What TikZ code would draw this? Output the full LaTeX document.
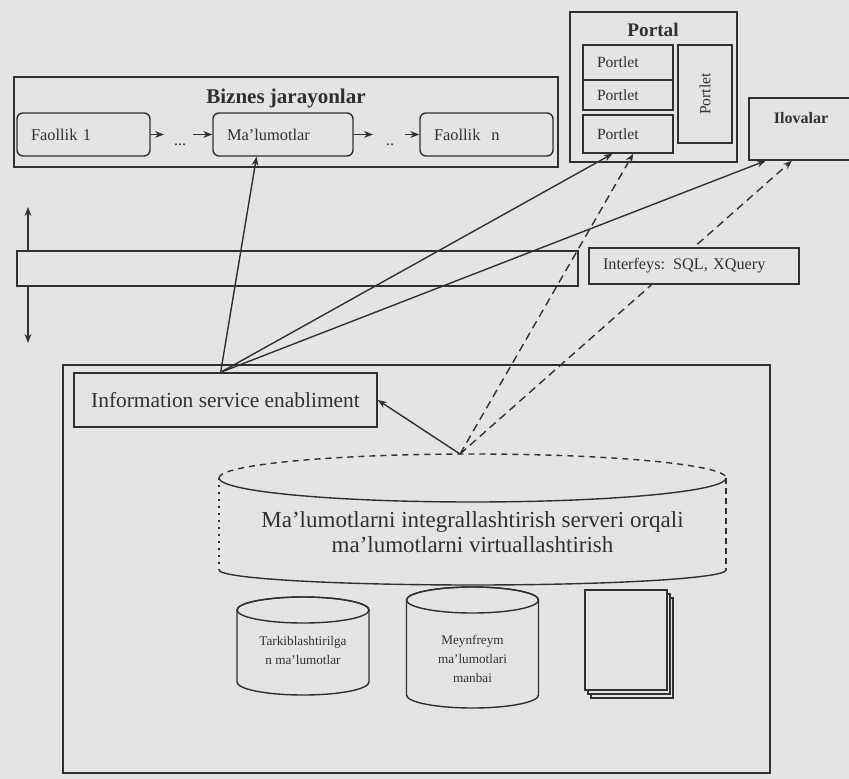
\documentclass[tikz,border=0pt]{standalone}
\usepackage{fontspec}
\setmainfont{Liberation Serif}
\usetikzlibrary{arrows.meta,positioning,calc}
\definecolor{paper}{HTML}{E3E5E5}
\definecolor{ink}{HTML}{303030}

\begin{document}
\begin{tikzpicture}[
  x=0.5pt, y=-0.5pt,
  every node/.style={text=ink},
  box/.style={draw=ink, line width=0.7pt, inner sep=0pt},
  act/.style={box, rounded corners=3pt, minimum height=21.5pt, inner xsep=7pt,
              text width=#1, align=left, font=\fontsize{8.2}{10}\selectfont},
  plet/.style={box, fill=paper, inner xsep=7pt, text width=31pt, align=left,
               font=\fontsize{7.8}{9}\selectfont},
  ttl/.style={font=\fontsize{#1}{12}\selectfont\bfseries},
  small/.style={align=center, font=\fontsize{6.6}{9.5}\selectfont},
  arr/.style={-{Stealth[length=4.5pt,width=3.4pt]}, draw=ink, line width=0.7pt},
  dsh/.style={arr, dash pattern=on 4pt off 2.6pt},
  ln/.style={draw=ink, line width=0.7pt},
]
\useasboundingbox (0,0) rectangle (849,779);
\fill[paper] (0,0) rectangle (849,779);

% ---------------- business processes -------------------------------
\node[box, minimum width=272pt, minimum height=45pt] (biz) at (286,122) {};
\node[ttl=10.5] (bizt) at (286,98) {Biznes jarayonlar};
\node[act=52.5pt] (f1) at (83.5,134.5) {Faollik 1};
\node[act=56pt] (mal) at (283,134.5) {Ma'lumotlar};
\node[act=52.5pt] (fn) at (486.5,134.5) {Faollik\ \ n};

\node[font=\fontsize{8}{9}\selectfont] (d1) at (180,145) {...};
\node[font=\fontsize{8}{9}\selectfont] (d2) at (390,145) {..};
\coordinate (d1a) at (164,134.5);
\coordinate (d1b) at (193,134.5);
\coordinate (d2a) at (373,134.5);
\coordinate (d2b) at (405,134.5);
\draw[arr] (f1) -- (d1a);
\draw[arr] (d1b) -- (mal);
\draw[arr] (mal) -- (d2a);
\draw[arr] (d2b) -- (fn);

% ---------------- portal and applications --------------------------
\node[box, minimum width=83.5pt, minimum height=75pt] (por) at (653.5,87) {};
\node[ttl=9.6] (port) at (653,30) {Portal};
\node[plet, minimum height=17.5pt] (p1) at (628,62.5) {Portlet};
\node[plet, minimum height=15pt] (p2) at (628,95) {Portlet};
\node[plet, minimum height=19pt] (p3) at (628,134) {Portlet};
\node[box, rotate=90, minimum width=49pt, minimum height=27pt,
      font=\fontsize{7.8}{9}\selectfont] (p4) at (705,94) {Portlet};

\node[box, minimum width=52pt, minimum height=31pt, text depth=11pt, ttl=8]
  (ilo) at (801,129) {Ilovalar};

% ---------------- interface band -----------------------------------
\coordinate (up) at (28,207);
\coordinate (dn) at (28,343);
\draw[{Stealth[length=4.5pt,width=3.4pt]}-{Stealth[length=4.5pt,width=3.4pt]},
      ink, line width=0.7pt] (up) -- (dn);
\node[box, fill=paper, minimum width=280.5pt, minimum height=17.5pt] (bnd) at (297.5,268.5) {};

% ---------------- integration server -------------------------------
\node[box, minimum width=353.5pt, minimum height=204pt] (sys) at (416.5,569) {};
\node[box, minimum width=151.5pt, minimum height=27pt,
      font=\fontsize{10.7}{12}\selectfont] (ise) at (225.5,400) {Information service enabliment};

\coordinate (srvL) at (219,478);
\coordinate (srvR) at (726,478);
\coordinate (srvLb) at (219,570);
\coordinate (srvRb) at (726,570);
\coordinate (vtx) at (460,454);
\draw[ln, dash pattern=on 3pt off 2.5pt] (srvL) arc[start angle=180, end angle=360, x radius=253.5, y radius=24];
\draw[ln] (srvL) arc[start angle=180, end angle=0, x radius=253.5, y radius=24];
\draw[ln, dash pattern=on 1pt off 2.5pt] (srvL) -- (srvLb);
\draw[ln, dash pattern=on 3pt off 2pt] (srvR) -- (srvRb);
\draw[ln] (srvLb) arc[start angle=180, end angle=0, x radius=253.5, y radius=15];
\node[align=center, font=\fontsize{11.5}{12.5}\selectfont] (srvt) at (472.5,532)
  {Ma'lumotlarni integrallashtirish serveri orqali\\ma'lumotlarni virtuallashtirish};

% sources
\foreach \cx/\ty/\by in {303/610/682, 472.5/600/695}{
  \draw[ln, fill=paper] ({\cx-66},\ty) -- ({\cx-66},\by)
    arc[start angle=180, end angle=0, x radius=66, y radius=13]
    -- ({\cx+66},\ty)
    arc[start angle=360, end angle=180, x radius=66, y radius=13];
  \draw[ln] (\cx,\ty) ellipse[x radius=66, y radius=13];
}
\node[small] (tk) at (303,650) {Tarkiblashtirilga\\n ma'lumotlar};
\node[small] (mf) at (472.5,659) {Meynfreym\\ma'lumotlari\\manbai};

\foreach \d in {2,1,0}
  \draw[ln, fill=paper] ({585+3*\d},{590+4*\d}) rectangle ++(82,100);

% ---------------- connectors ---------------------------------------
\draw[arr] (ise.100) -- (mal.220);
\draw[arr] (ise.100) -- (p3.232);
\draw[arr] (ise.100) -- (ilo.222);
\draw[arr] (vtx) -- (ise.east);
\draw[dsh] (vtx) -- (p3.285);
\draw[dsh] (vtx) -- (ilo.254);

% interface box lies over the dashed link
\node[box, fill=paper, minimum height=18pt, inner xsep=7pt, text width=91pt, align=left,
      font=\fontsize{8.1}{10}\selectfont] (ifc) at (694,266) {Interfeys: SQL, XQuery};

\end{tikzpicture}
\end{document}
